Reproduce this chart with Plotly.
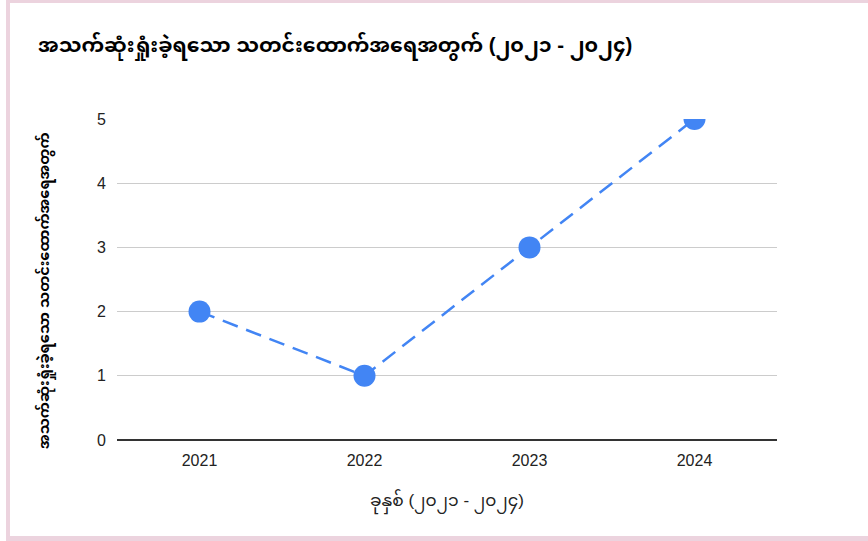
import plotly.graph_objects as go

years = ["2021", "2022", "2023", "2024"]
deaths = [2, 1, 3, 5]
y_ticks = [0, 1, 2, 3, 4, 5]

title_text = "အသက်ဆုံးရှုံးခဲ့ရသော သတင်းထောက်အရေအတွက် (၂၀၂၁ - ၂၀၂၄)"
y_title = "အသက်ဆုံးရှုံးခဲ့ရသော သတင်းထောက်အရေအတွက်"
x_title = "ခုနှစ် (၂၀၂၁ - ၂၀၂၄)"

W, H = 868, 541
L, R, T, B = 117, 91, 119, 101
pw, ph = W - L - R, H - T - B

def px(x):
    return (x - L) / pw

def py(y):
    return (H - B - y) / ph

FONT = "Arial, Liberation Sans, Noto Sans Myanmar, Padauk, Noto Sans, sans-serif"

fig = go.Figure()
fig.add_trace(go.Scatter(
    x=years, y=deaths, mode="lines+markers",
    line=dict(color="#4285F4", width=2.5, dash="16px,9px"),
    marker=dict(color="#4285F4", size=22),
    cliponaxis=True,
))

pink = "#ecd3de"
shapes = [
    dict(type="rect", xref="paper", yref="paper", x0=px(6), x1=px(10), y0=py(541), y1=py(0),
         fillcolor=pink, line=dict(width=0), layer="below"),
    dict(type="rect", xref="paper", yref="paper", x0=px(6), x1=px(868), y0=py(3), y1=py(0),
         fillcolor=pink, line=dict(width=0), layer="below"),
    dict(type="rect", xref="paper", yref="paper", x0=px(6), x1=px(868), y0=py(541), y1=py(536),
         fillcolor=pink, line=dict(width=0), layer="below"),
]

fig.update_layout(
    width=W, height=H,
    margin=dict(l=L, r=R, t=T, b=B),
    paper_bgcolor="white", plot_bgcolor="white",
    showlegend=False,
    hovermode=False,
    font=dict(family=FONT, color="#222222", size=15),
    title=dict(text="<b>" + title_text + "</b>", x=38 / W, xanchor="left",
               y=1 - 45 / H, yanchor="middle", xref="container", yref="container",
               font=dict(size=20.4, color="#000000", family=FONT)),
    xaxis=dict(type="category", range=[-0.5, 3.5], showgrid=False, zeroline=False,
               showline=False, ticks="", tickfont=dict(size=16, color="#222222"),
               ticklabelstandoff=9),
    yaxis=dict(range=[0, 5], tickvals=y_ticks, showgrid=True, gridcolor="#cccccc",
               gridwidth=1, zeroline=True, zerolinecolor="#333333", zerolinewidth=1.5,
               showline=False, ticks="", tickfont=dict(size=16, color="#222222"),
               ticklabelstandoff=10),
    shapes=shapes,
    annotations=[
        dict(text="<b>" + y_title + "</b>", xref="paper", yref="paper",
             x=px(45), y=py(291), xanchor="center", yanchor="middle", textangle=-90,
             showarrow=False, font=dict(size=14.5, color="#000000", family=FONT)),
        dict(text=x_title, xref="paper", yref="paper",
             x=px(447), y=py(502), xanchor="center", yanchor="middle",
             showarrow=False, font=dict(size=17, color="#222222", family=FONT)),
    ],
)

fig.write_html("out.html", config={"displayModeBar": False},
               post_script="document.body.style.margin='0';")
